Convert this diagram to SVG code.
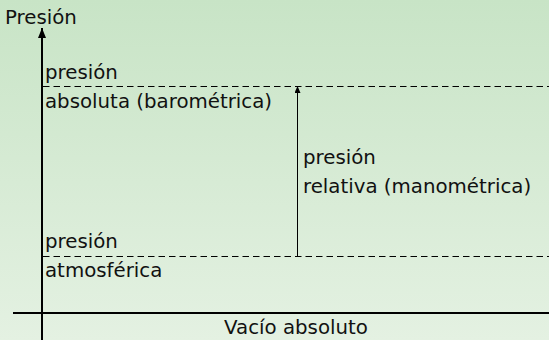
<svg xmlns="http://www.w3.org/2000/svg" width="549" height="340" viewBox="0 0 549 340">
<defs>
<linearGradient id="bg" x1="0" y1="0" x2="0" y2="1">
<stop offset="0" stop-color="#c8e4c6"/>
<stop offset="1" stop-color="#e4f1e2"/>
</linearGradient>
<marker id="ah" markerWidth="10" markerHeight="8" refX="10" refY="4" orient="auto" markerUnits="userSpaceOnUse" viewBox="0 0 10 8">
<path d="M0,0 L10,4 L0,8 Z" fill="#000"/>
</marker>
<marker id="ahs" markerWidth="7" markerHeight="6" refX="7" refY="3" orient="auto" markerUnits="userSpaceOnUse" viewBox="0 0 7 6">
<path d="M0,0 L7,3 L0,6 Z" fill="#000"/>
</marker>
</defs>
<style>
text{font-family:"DejaVu Sans",sans-serif;font-size:19.8px;fill:#111}
.dash{stroke:#000;stroke-width:1;stroke-dasharray:6.5,4;fill:none}
</style>
<rect width="549" height="340" fill="url(#bg)"/>
<g id="connectors">
<line x1="42" y1="340" x2="42" y2="28" stroke="#000" stroke-width="2" marker-end="url(#ah)"/>
<line x1="13" y1="313" x2="549" y2="313" stroke="#000" stroke-width="2"/>
<line class="dash" x1="43" y1="86.5" x2="549" y2="86.5"/>
<line class="dash" x1="43" y1="256.5" x2="549" y2="256.5"/>
<line x1="297.5" y1="256" x2="297.5" y2="86" stroke="#000" stroke-width="1" marker-end="url(#ahs)"/>
</g>
<g id="axis-label"><text x="5" y="24">Presión</text></g>
<g id="absoluta"><text x="45" y="79">presión</text><text x="45" y="108">absoluta (barométrica)</text></g>
<g id="relativa"><text x="303" y="164">presión</text><text x="303" y="193">relativa (manométrica)</text></g>
<g id="atmosferica"><text x="45" y="248">presión</text><text x="45" y="277">atmosférica</text></g>
<g id="vacio"><text x="296" y="334" text-anchor="middle">Vacío absoluto</text></g>
</svg>
